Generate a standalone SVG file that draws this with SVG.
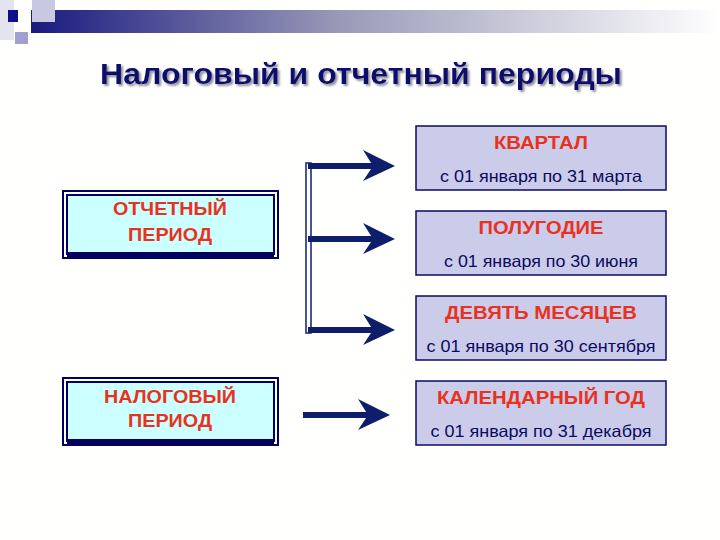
<svg xmlns="http://www.w3.org/2000/svg" width="720" height="540" viewBox="0 0 720 540">
<defs>
<linearGradient id="bar" x1="0" y1="0" x2="1" y2="0">
<stop offset="0" stop-color="#1a1a80"/>
<stop offset="0.45" stop-color="#9a9ab8"/>
<stop offset="1" stop-color="#ffffff"/>
</linearGradient>
<filter id="sh" x="-5%" y="-20%" width="110%" height="150%">
<feDropShadow dx="2" dy="2" stdDeviation="0.8" flood-color="#808090" flood-opacity="0.9"/>
</filter>
<path id="head" d="M0,0 L-32,-16 L-22,0 L-32,15 Z"/>
</defs>
<style>
.title{font-family:"Liberation Sans",Arial,sans-serif;font-weight:bold;font-size:29px;fill:#0b0b6e;text-anchor:middle}
.red{font-family:"Liberation Sans",Arial,sans-serif;font-weight:bold;font-size:18px;fill:#e8321e;text-anchor:middle}
.date{font-family:"Liberation Sans",Arial,sans-serif;font-size:16.5px;fill:#0b0b5e;text-anchor:middle}
.rbox{fill:#cbcbea;stroke:#0b0b5e;stroke-width:1.5}
.outer{fill:#ffffff;stroke:#00005e;stroke-width:2}
.inner{fill:#ccffff;stroke:#00005e;stroke-width:2}
.shaft{stroke:#0e1e6a;stroke-width:6;fill:none}
.hd{fill:#0e1e6a}
</style>
<rect width="720" height="540" fill="#fffffd"/>
<g id="decor">
<rect x="0" y="0" width="14" height="40" fill="#e4e4f0"/>
<rect x="31" y="10" width="689" height="23" fill="url(#bar)"/>
<rect x="32" y="0" width="23" height="22" fill="#c8c8e0"/>
<rect x="15" y="32" width="13" height="12" fill="#a0a0d0"/>
<rect x="8" y="10" width="10" height="12" fill="#10108a"/>
</g>
<g id="title">
<text class="title" x="361" y="84" textLength="522" lengthAdjust="spacingAndGlyphs" filter="url(#sh)">Налоговый и отчетный периоды</text>
</g>
<g id="reporting-period">
<rect class="outer" x="63" y="191" width="215" height="67"/>
<rect class="inner" x="67" y="195" width="207" height="59"/>
<rect x="67" y="252" width="207" height="5" fill="#00005e"/>
<text class="red" x="170" y="215" textLength="114" lengthAdjust="spacingAndGlyphs">ОТЧЕТНЫЙ</text>
<text class="red" x="170" y="241" textLength="84" lengthAdjust="spacingAndGlyphs">ПЕРИОД</text>
</g>
<g id="tax-period">
<rect class="outer" x="63" y="378" width="215" height="67"/>
<rect class="inner" x="67" y="382" width="207" height="59"/>
<rect x="67" y="439" width="207" height="5" fill="#00005e"/>
<text class="red" x="170" y="403" textLength="132" lengthAdjust="spacingAndGlyphs">НАЛОГОВЫЙ</text>
<text class="red" x="170" y="427" textLength="84" lengthAdjust="spacingAndGlyphs">ПЕРИОД</text>
</g>
<g id="quarter">
<rect class="rbox" x="416" y="126" width="250" height="64"/>
<text class="red" x="541" y="149" textLength="94" lengthAdjust="spacingAndGlyphs">КВАРТАЛ</text>
<text class="date" x="541" y="182" textLength="202" lengthAdjust="spacingAndGlyphs">с 01 января по 31 марта</text>
</g>
<g id="half-year">
<rect class="rbox" x="416" y="211" width="250" height="64"/>
<text class="red" x="541" y="234" textLength="125" lengthAdjust="spacingAndGlyphs">ПОЛУГОДИЕ</text>
<text class="date" x="541" y="267" textLength="194" lengthAdjust="spacingAndGlyphs">с 01 января по 30 июня</text>
</g>
<g id="nine-months">
<rect class="rbox" x="416" y="296" width="250" height="64"/>
<text class="red" x="541" y="319" textLength="192" lengthAdjust="spacingAndGlyphs">ДЕВЯТЬ МЕСЯЦЕВ</text>
<text class="date" x="541" y="352" textLength="229" lengthAdjust="spacingAndGlyphs">с 01 января по 30 сентября</text>
</g>
<g id="calendar-year">
<rect class="rbox" x="416" y="381" width="250" height="64"/>
<text class="red" x="541" y="404" textLength="208" lengthAdjust="spacingAndGlyphs">КАЛЕНДАРНЫЙ ГОД</text>
<text class="date" x="541" y="437" textLength="221" lengthAdjust="spacingAndGlyphs">с 01 января по 31 декабря</text>
</g>
<g id="connectors">
<rect x="306" y="163" width="5" height="170" fill="#ffffff" stroke="#0e1e6a" stroke-width="1.5"/>
<line class="shaft" x1="308" y1="166" x2="374" y2="166"/>
<use href="#head" class="hd" x="395" y="166"/>
<line class="shaft" x1="308" y1="239" x2="374" y2="239"/>
<use href="#head" class="hd" x="395" y="239"/>
<line class="shaft" x1="308" y1="330" x2="374" y2="330"/>
<use href="#head" class="hd" x="395" y="330"/>
<line class="shaft" x1="303" y1="415" x2="370" y2="415"/>
<use href="#head" class="hd" x="390" y="415"/>
</g>
</svg>
